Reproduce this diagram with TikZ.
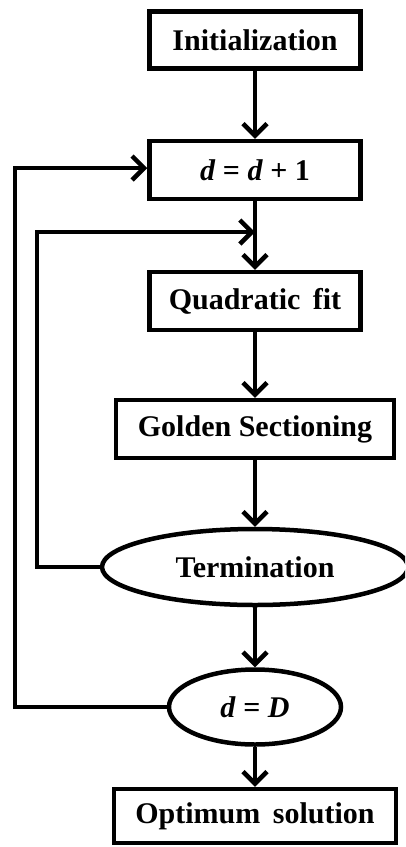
\documentclass[tikz,border=0pt]{standalone}
\usepackage{fontspec}
\setmainfont{Liberation Serif}
\usetikzlibrary{arrows.meta,shapes.geometric}
\begin{document}
\begin{tikzpicture}[x=1pt,y=-1pt,
  every node/.style={font=\fontsize{30}{34}\selectfont\bfseries, line width=4.5pt, inner sep=0pt},
  stepbox/.style={draw, rectangle, minimum height=57pt},
  oval/.style={draw, ellipse},
  flow/.style={line width=4.5pt, -{Straight Barb[length=12pt,width=24pt,line width=4.5pt]}},
  plain/.style={line width=4.5pt}]
\useasboundingbox (0,0) rectangle (405,847);
\begin{scope}
\clip (0,0) rectangle (405,847);
\node[stepbox, minimum width=211pt] (init) at (255,40) {Initialization};
\node[stepbox, minimum width=211pt, minimum height=58pt] (inc) at (255,170) {\textit{d} = \textit{d} + 1};
\node[stepbox, minimum width=211pt, minimum height=58pt] (quad) at (255,301) {Quadratic\, fit};
\node[stepbox, minimum width=278pt, minimum height=58pt] (gold) at (255,429) {Golden Sectioning};
\node[oval, minimum width=306pt, minimum height=76pt] (term) at (255,567) {Termination};
\node[oval, minimum width=172pt, minimum height=75pt] (dD) at (255,707) {\textit{d} = \textit{D}};
\node[stepbox, minimum width=282pt, minimum height=54pt] (opt) at (255,816) {Optimum\, solution};

\coordinate (join) at (255,232);
\coordinate (outerTop) at (15,168);
\coordinate (outerBot) at (15,707);
\coordinate (innerTop) at (37,232);
\coordinate (innerBot) at (37,567);

\draw[flow] (init) -- (inc);
\draw[plain] (inc) -- (join);
\draw[flow] (join) -- (quad);
\draw[flow] (quad) -- (gold);
\draw[flow] (gold) -- (term);
\draw[flow] (term) -- (dD);
\draw[flow] (dD) -- (opt);
\draw[flow] (term.west) -- (innerBot) -- (innerTop) -- (join);
\draw[flow] (dD.west) -- (outerBot) -- (outerTop) -- (inc.west |- outerTop);
\end{scope}
\end{tikzpicture}
\end{document}
